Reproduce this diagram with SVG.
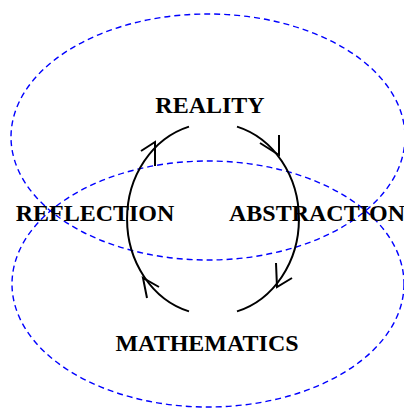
<svg xmlns="http://www.w3.org/2000/svg" width="404" height="408" viewBox="0 0 404 408">
<style>
.dash{fill:none;stroke:#0000ff;stroke-width:1.4;stroke-dasharray:6,4}
.arc{fill:none;stroke:#000;stroke-width:2}
.lbl{font-family:"Liberation Serif","Times New Roman",serif;font-weight:bold;font-size:24px;fill:#000;text-anchor:middle}
</style>
<rect width="404" height="408" fill="#fff"/>
<g id="ellipses">
<ellipse class="dash" cx="208" cy="137" rx="197" ry="123"/>
<ellipse class="dash" cx="208" cy="284" rx="196" ry="123"/>
</g>
<g id="connectors">
<path class="arc" d="M189,126.6 A85 96 0 0 0 189,311.4"/>
<path class="arc" d="M237,126.6 A85 96 0 0 1 237,311.4"/>
<path class="arc" d="M141,151 L155,142 L155,166"/>
<path class="arc" d="M260,143 L279,155 L279,135"/>
<path class="arc" d="M276,263 L277,287 L292,278"/>
<path class="arc" d="M147,298 L143,278 L159,287"/>
</g>
<g id="reality"><text class="lbl" x="210" y="113">REALITY</text></g>
<g id="reflection"><text class="lbl" x="95" y="221">REFLECTION</text></g>
<g id="abstraction"><text class="lbl" x="317" y="221">ABSTRACTION</text></g>
<g id="mathematics"><text class="lbl" x="207" y="351">MATHEMATICS</text></g>
</svg>
